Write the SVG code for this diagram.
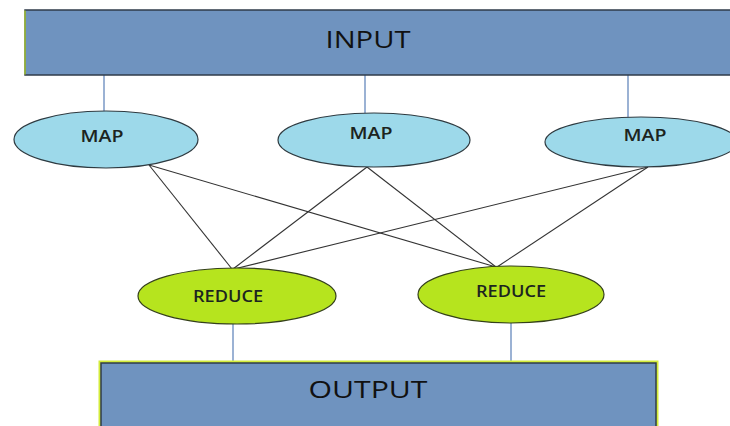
<svg xmlns="http://www.w3.org/2000/svg" width="730" height="426" viewBox="0 0 730 426">
  <style>
    .box { fill: #6F93BF; stroke: #2F3B4A; stroke-width: 1.5; }
    .map { fill: #9DD9EA; stroke: #2E3A40; stroke-width: 1.2; }
    .reduce { fill: #B6E41E; stroke: #34401A; stroke-width: 1.2; }
    .feed { stroke: #9BB2D4; stroke-width: 2; fill: none; }
    .cross { stroke: #333; stroke-width: 1.1; fill: none; }
    text { font-family: "Open Sans", "Liberation Sans", sans-serif; fill: #111; text-anchor: middle; }
    .big { font-size: 24px; }
    .small { font-size: 16px; font-weight: 600; fill: #1C2420; }
  </style>
  <rect width="730" height="426" fill="#fff"/>

  <g id="connectors">
    <line class="feed" x1="104" y1="75" x2="104" y2="111"/>
    <line class="feed" x1="365" y1="75" x2="365" y2="113"/>
    <line class="feed" x1="628" y1="75" x2="628" y2="117"/>
    <line class="feed" x1="233" y1="324" x2="233" y2="363"/>
    <line class="feed" x1="511" y1="323" x2="511" y2="363"/>
    <line class="cross" x1="149" y1="165" x2="232" y2="269"/>
    <line class="cross" x1="149" y1="165" x2="496" y2="267"/>
    <line class="cross" x1="367" y1="167" x2="233" y2="269"/>
    <line class="cross" x1="367" y1="167" x2="496" y2="267"/>
    <line class="cross" x1="648" y1="167" x2="234" y2="269"/>
    <line class="cross" x1="648" y1="167" x2="497" y2="267"/>
  </g>

  <g id="input">
    <rect class="box" x="25" y="10" width="720" height="65"/>
    <line x1="25" y1="10.5" x2="25" y2="74.5" stroke="#A8C83A" stroke-width="1.5"/>
    <text class="big" x="368" y="48" textLength="85" lengthAdjust="spacingAndGlyphs">INPUT</text>
  </g>

  <g id="map1">
    <ellipse class="map" cx="106" cy="139.5" rx="92" ry="28.5"/>
    <text class="small" x="102" y="142" textLength="43" lengthAdjust="spacingAndGlyphs">MAP</text>
  </g>
  <g id="map2">
    <ellipse class="map" cx="374" cy="140" rx="96" ry="27"/>
    <text class="small" x="371" y="139" textLength="43" lengthAdjust="spacingAndGlyphs">MAP</text>
  </g>
  <g id="map3">
    <ellipse class="map" cx="641" cy="142" rx="96" ry="25"/>
    <text class="small" x="645" y="141" textLength="43" lengthAdjust="spacingAndGlyphs">MAP</text>
  </g>

  <g id="reduce1">
    <ellipse class="reduce" cx="237" cy="296" rx="99" ry="28"/>
    <text class="small" x="228" y="302" textLength="70" lengthAdjust="spacingAndGlyphs">REDUCE</text>
  </g>
  <g id="reduce2">
    <ellipse class="reduce" cx="511" cy="294.5" rx="93" ry="28.5"/>
    <text class="small" x="511" y="297" textLength="70" lengthAdjust="spacingAndGlyphs">REDUCE</text>
  </g>

  <g id="output">
    <rect x="100" y="362" width="557" height="80" fill="none" stroke="#D4EC3A" stroke-width="3"/>
    <rect class="box" x="101" y="363" width="555" height="80"/>
    <text class="big" x="368" y="398" textLength="119" lengthAdjust="spacingAndGlyphs">OUTPUT</text>
  </g>
</svg>
